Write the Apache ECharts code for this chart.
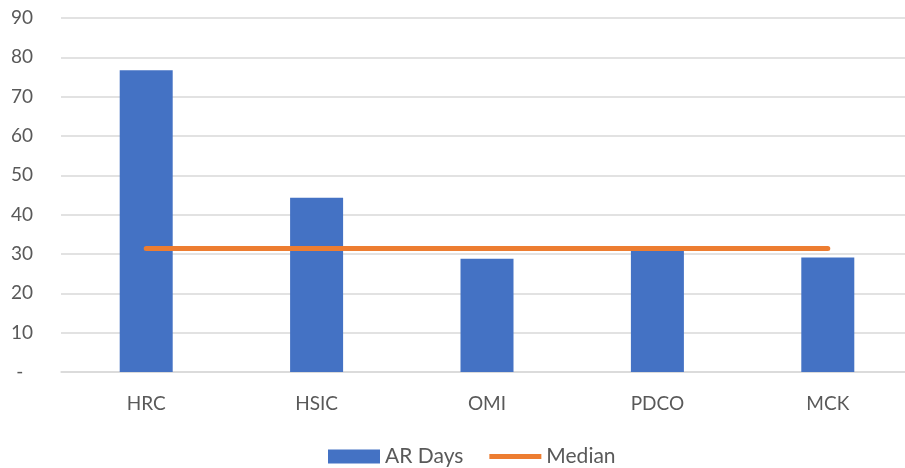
<!DOCTYPE html>
<html>
<head>
<meta charset="utf-8">
<script src="https://cdn.jsdelivr.net/npm/echarts@6/dist/echarts.min.js"></script>
<style>
  html, body { margin: 0; padding: 0; background: #fff; }
  #chart { width: 905px; height: 468px; }
</style>
</head>
<body>
<div id="chart"></div>
<script>
  const categories = ['HRC', 'HSIC', 'OMI', 'PDCO', 'MCK']
  const arDays = [76.7, 44.3, 28.8, 30.8, 29.1]
  const median = [31.4, 31.4, 31.4, 31.4, 31.4]
  const yTicks = { min: 0, max: 90, interval: 10 }

  const labelColor = '#595959'
  const font = 'Lato, "Open Sans", sans-serif'
  // thin line icon, padded to the full legend item height
  const lineIcon = 'path://M0,0 L0.001,0 Z M0,4.5 L52,4.5 L52,9.5 L0,9.5 Z M0,14 L0.001,14 Z'

  const chart = echarts.init(document.getElementById('chart'))
  const option = {
    animation: false,
    textStyle: { fontFamily: font },
    grid: {
      left: 61,
      top: 18,
      width: 852,
      height: 354,
      outerBoundsMode: 'none'
    },
    legend: {
      top: 441,
      left: 323,
      itemWidth: 52,
      itemHeight: 14,
      itemGap: 26,
      textStyle: { color: labelColor, fontSize: 21, fontFamily: font },
      data: [
        { name: 'AR Days', icon: 'rect' },
        { name: 'Median', icon: lineIcon }
      ]
    },
    xAxis: {
      type: 'category',
      data: categories,
      axisTick: { show: false },
      axisLine: { lineStyle: { color: '#D9D9D9', width: 1.5 } },
      axisLabel: { color: labelColor, fontSize: 19, margin: 22 }
    },
    yAxis: {
      type: 'value',
      min: yTicks.min,
      max: yTicks.max,
      interval: yTicks.interval,
      axisLine: { show: false },
      axisTick: { show: false },
      splitLine: { lineStyle: { color: '#D9D9D9', width: 1.5 } },
      axisLabel: {
        color: labelColor,
        fontSize: 19,
        margin: 28,
        formatter: v => (v === 0 ? '-  ' : String(v))
      }
    },
    series: [
      {
        name: 'AR Days',
        type: 'bar',
        barWidth: 53,
        itemStyle: { color: '#4472C4' },
        data: arDays
      },
      {
        name: 'Median',
        type: 'line',
        symbol: 'none',
        lineStyle: { color: '#ED7D31', width: 5, cap: 'round' },
        itemStyle: { color: '#ED7D31' },
        data: median
      }
    ]
  }
  chart.setOption(option)
</script>
</body>
</html>
